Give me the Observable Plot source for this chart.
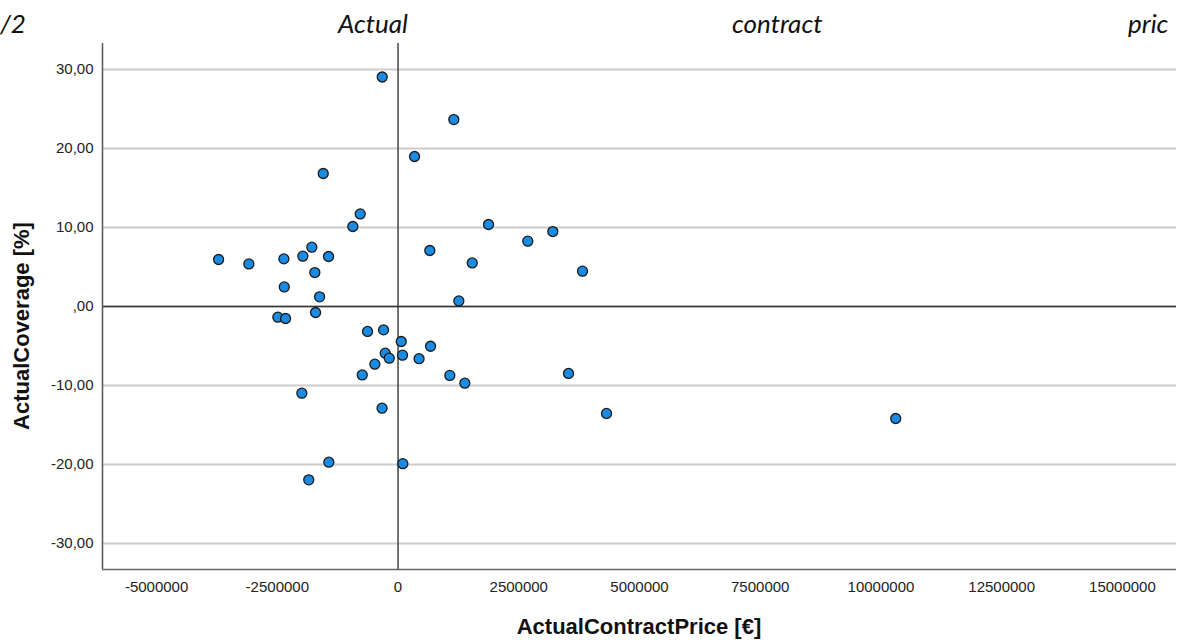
<!DOCTYPE html>
<html><head><meta charset="utf-8">
<script src="https://cdn.jsdelivr.net/npm/d3@7"></script>
<script src="https://cdn.jsdelivr.net/npm/@observablehq/plot@0.6"></script>
<style>
body{margin:0;background:#fff;}
#wrap{position:relative;width:1203px;height:642px;overflow:hidden;background:#fff;}
.tw{position:absolute;top:7px;font-family:Lato,"Open Sans",sans-serif;font-style:italic;font-size:26px;color:#111;white-space:nowrap;line-height:32px;}
#xlab{position:absolute;left:0;width:1278px;top:614px;text-align:center;font-family:"Liberation Sans",Arial,sans-serif;font-weight:bold;font-size:22px;color:#111;line-height:26px;}
#ylab{position:absolute;left:22px;top:326px;transform:translate(-50%,-50%) rotate(-90deg);font-family:"Liberation Sans",Arial,sans-serif;font-weight:bold;font-size:22px;color:#111;white-space:nowrap;line-height:26px;}
#chart{position:absolute;left:0;top:0;}
</style></head>
<body>
<div id="wrap">
  <div id="chart"></div>
  <div id="title"></div>
  <div id="xlab"></div>
  <div id="ylab"></div>
</div>
<script>
const titleWords = ["/2", "Actual", "contract", "pric"];
const titleLefts = [0, 338, 732, 1128];
const xLabel = "ActualContractPrice [€]";
const yLabel = "ActualCoverage [%]";

const price = [-327000, 1155000, 342000, -1549000, -783000, -936000, 1874000, 3205000, 2687000, 658000,
  1536000, 3820000, 1259000, -3716000, -3089000, -2364000, -1785000, -1971000, -1439000, -1723000,
  -2356000, -1625000, -1708000, -2489000, -2329000, -631000, -300000, 66000, -265000, -182000,
  93000, -480000, -741000, 435000, 673000, 1072000, 1383000, 3530000, 4317000, 10306000,
  -1992000, -331000, -1433000, 99000, -1849000];
const coverage = [29.06, 23.67, 18.99, 16.84, 11.72, 10.13, 10.38, 9.49, 8.27, 7.09,
  5.52, 4.47, 0.71, 5.95, 5.39, 6.03, 7.51, 6.37, 6.33, 4.30,
  2.48, 1.22, -0.76, -1.35, -1.52, -3.16, -2.96, -4.43, -5.91, -6.54,
  -6.16, -7.30, -8.66, -6.61, -5.03, -8.73, -9.71, -8.48, -13.54, -14.18,
  -10.97, -12.87, -19.71, -19.90, -21.95];
const xTicks = [-5000000, -2500000, 0, 2500000, 5000000, 7500000, 10000000, 12500000, 15000000];
const yTicks = [-30, -20, -10, 0, 10, 20, 30];
const xDomain = [-6120000, 16120000];
const yDomain = [-33.3, 33.3];

const data = price.map((p, i) => ({price: p, coverage: coverage[i]}));
const fmtY = v => v === 0 ? ",00" : v.toFixed(2).replace(".", ",");
const fmtX = v => String(v);

const chart = Plot.plot({
  width: 1203, height: 642,
  marginTop: 43, marginBottom: 73, marginLeft: 102, marginRight: 27,
  style: {fontFamily: "'Liberation Sans', Arial, sans-serif", fontSize: "15px", color: "#222", background: "transparent"},
  x: {domain: xDomain},
  y: {domain: yDomain},
  marks: [
    Plot.gridY(yTicks, {stroke: "#cccccc", strokeOpacity: 1, strokeWidth: 2}),
    Plot.ruleX([0], {stroke: "#444", strokeWidth: 1.5}),
    Plot.ruleY([0], {stroke: "#333", strokeWidth: 1.5}),
    Plot.ruleX([xDomain[0]], {stroke: "#555", strokeWidth: 1.5}),
    Plot.ruleY([yDomain[0]], {stroke: "#666", strokeWidth: 1.5}),
    Plot.axisY(yTicks, {tickSize: 0, tickPadding: 9, tickFormat: fmtY, label: null, fill: "#222"}),
    Plot.axisX(xTicks, {tickSize: 0, tickPadding: 12, tickFormat: fmtX, label: null, fill: "#222"}),
    Plot.dot(data, {x: "price", y: "coverage", r: 5, fill: "#1a8be3", fillOpacity: 1, stroke: "#1a1a1a", strokeWidth: 1.3})
  ]
});
document.getElementById("chart").append(chart);

const t = document.getElementById("title");
titleWords.forEach((w, i) => {
  const s = document.createElement("span");
  s.className = "tw";
  s.style.left = titleLefts[i] + "px";
  s.textContent = w;
  t.append(s);
});
document.getElementById("xlab").textContent = xLabel;
document.getElementById("ylab").textContent = yLabel;
</script>
</body></html>
